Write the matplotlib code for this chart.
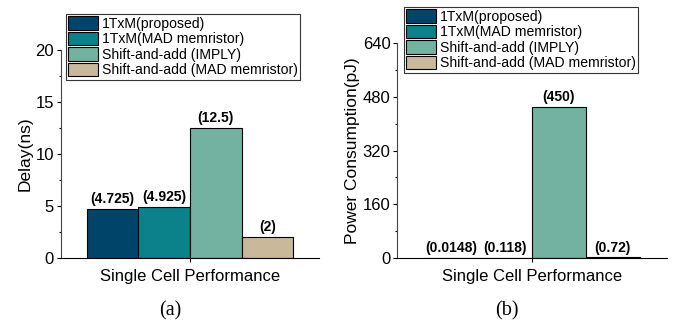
# grouped single-cell comparison: delay (a) and power consumption (b)

import matplotlib as mpl
mpl.use('Agg')
import matplotlib.pyplot as plt
from matplotlib.ticker import MultipleLocator

# data
designs = ['1TxM(proposed)',
           '1TxM(MAD memristor)',
           'Shift-and-add (IMPLY)',
           'Shift-and-add (MAD memristor)']
delay_ns = [4.725, 4.925, 12.5, 2]
delay_labels = ['(4.725)', '(4.925)', '(12.5)', '(2)']
power_pj = [0.0148, 0.118, 450, 0.72]
power_labels = ['(0.0148)', '(0.118)', '(450)', '(0.72)']
category = 'Single Cell Performance'
colors = ['#00446a', '#0b8189', '#73b2a0', '#c9b99a']

mpl.rcParams['font.family'] = ['Liberation Sans', 'DejaVu Sans']
mpl.rcParams['font.size'] = 12
mpl.rcParams['axes.linewidth'] = 0.8

fig = plt.figure(figsize=(6.8, 3.22), dpi=100)
ax1 = fig.add_axes([0.0897, 0.1997, 0.3794, 0.645])
ax2 = fig.add_axes([0.5843, 0.1997, 0.3962, 0.6658])

width = 0.2
offsets = [-1.5 * width, -0.5 * width, 0.5 * width, 1.5 * width]


def draw_panel(ax, values, labels, ymax, ystep, ylabel):
    bars = []
    for i in range(len(values)):
        b = ax.bar(offsets[i], values[i], width, color=colors[i],
                   edgecolor='black', linewidth=0.8, label=designs[i])
        bars.append(b)
        ax.annotate(labels[i], (offsets[i], values[i]), xytext=(0, 2),
                    textcoords='offset points', ha='center', va='bottom',
                    fontsize=10, fontweight='bold')
    ax.set_xlim(-0.5, 0.5)
    ax.set_ylim(0, ymax)
    ax.yaxis.set_major_locator(MultipleLocator(ystep))
    ax.yaxis.set_minor_locator(MultipleLocator(ystep / 2))
    ax.set_xticks([0])
    ax.set_xticklabels([category])
    ax.tick_params(axis='x', length=3, width=0.8, pad=5, labelsize=12)
    ax.tick_params(axis='y', which='major', length=3, width=0.8, labelsize=12, pad=2)
    ax.tick_params(axis='y', which='minor', length=1.5, width=0.8)
    ax.spines['top'].set_visible(False)
    ax.spines['right'].set_visible(False)
    ax.spines['left'].set_color('#444444')
    ax.set_ylabel(ylabel, fontsize=12.5, labelpad=2)
    return bars


bars1 = draw_panel(ax1, delay_ns, delay_labels, 20, 5, 'Delay(ns)')
bars2 = draw_panel(ax2, power_pj, power_labels, 640, 160, 'Power Consumption(pJ)')

for bars, anchor in [(bars1, (66 / 680, 1 - 14 / 322)), (bars2, (404 / 680, 1 - 7 / 322))]:
    leg = fig.legend(handles=bars, labels=designs, loc='upper left',
                     bbox_to_anchor=anchor, bbox_transform=fig.transFigure,
                     fontsize=10.1, frameon=True, fancybox=False, framealpha=1,
                     edgecolor='#333333', borderpad=0.15, borderaxespad=0,
                     handlelength=2.15, handleheight=1.1, labelspacing=0.08,
                     handletextpad=0.25)
    leg.get_frame().set_linewidth(0.8)

fig.text(170 / 680, 1 - 311 / 322, '(a)', ha='center', va='center',
         family='Liberation Serif', fontsize=14.5)
fig.text(507 / 680, 1 - 311 / 322, '(b)', ha='center', va='center',
         family='Liberation Serif', fontsize=14.5)

plt.savefig('out.png', dpi=100)
